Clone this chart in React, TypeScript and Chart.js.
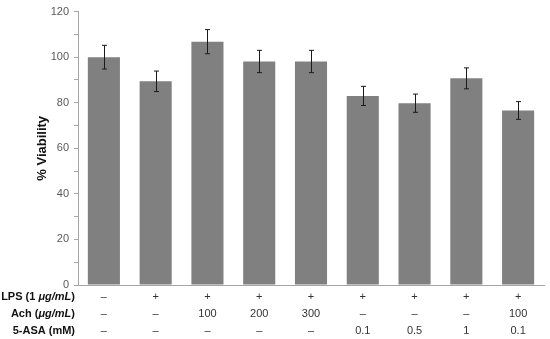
import React, { useEffect, useRef } from "react";
import { Chart, registerables } from "chart.js";

Chart.register(...registerables);

const lpsRow = ["–", "+", "+", "+", "+", "+", "+", "+", "+"];
const achRow = ["–", "–", "100", "200", "300", "–", "–", "–", "100"];
const asaRow = ["–", "–", "–", "–", "–", "0.1", "0.5", "1", "0.1"];
const viability = [100, 89.4, 106.8, 98.1, 98.1, 83.0, 79.8, 90.7, 76.6];
const errors = [5.2, 4.5, 5.3, 4.9, 4.9, 4.2, 4.0, 4.6, 3.9];
const yTicks = [0, 20, 40, 60, 80, 100, 120];

const FONT = "'Liberation Sans', Arial, sans-serif";
const LINE_H = 17;
const X_PAD = 3;

const errorBarPlugin = {
  id: "errorBars",
  afterDatasetsDraw(chart: any) {
    const ctx = chart.ctx;
    const meta = chart.getDatasetMeta(0);
    const y = chart.scales.y;
    ctx.save();
    ctx.strokeStyle = "#1a1a1a";
    ctx.lineWidth = 1;
    meta.data.forEach((el: any, i: number) => {
      const x = Math.round(el.x) + 0.5;
      const top = y.getPixelForValue(viability[i] + errors[i]);
      const bot = y.getPixelForValue(viability[i] - errors[i]);
      ctx.beginPath();
      ctx.moveTo(x, top);
      ctx.lineTo(x, bot);
      ctx.moveTo(x - 2.5, top);
      ctx.lineTo(x + 2.5, top);
      ctx.moveTo(x - 2.5, bot);
      ctx.lineTo(x + 2.5, bot);
      ctx.stroke();
    });
    ctx.restore();
  },
};

const rowHeaderPlugin = {
  id: "rowHeaders",
  afterDraw(chart: any) {
    const ctx = chart.ctx;
    const xs = chart.scales.x;
    const right = 75;
    const rows: { text: string; italic: boolean }[][] = [
      [
        { text: "LPS (1 ", italic: false },
        { text: "μg/mL", italic: true },
        { text: ")", italic: false },
      ],
      [
        { text: "Ach (", italic: false },
        { text: "μg/mL", italic: true },
        { text: ")", italic: false },
      ],
      [{ text: "5-ASA (mM)", italic: false }],
    ];
    ctx.save();
    ctx.fillStyle = "#111";
    ctx.textBaseline = "middle";
    ctx.textAlign = "left";
    rows.forEach((segs, r) => {
      const yy = xs.top + X_PAD + (r + 0.5) * LINE_H;
      let total = 0;
      segs.forEach((s) => {
        ctx.font = `${s.italic ? "italic " : ""}bold 11px ${FONT}`;
        total += ctx.measureText(s.text).width;
      });
      let x = right - total;
      segs.forEach((s) => {
        ctx.font = `${s.italic ? "italic " : ""}bold 11px ${FONT}`;
        ctx.fillText(s.text, x, yy);
        x += ctx.measureText(s.text).width;
      });
    });
    ctx.restore();
  },
};

export default function App() {
  const ref = useRef<HTMLCanvasElement | null>(null);

  useEffect(() => {
    document.body.style.margin = "0";
    const labels = lpsRow.map((v, i) => [v, achRow[i], asaRow[i]]);
    const chart = new Chart(ref.current as HTMLCanvasElement, {
      type: "bar",
      data: {
        labels,
        datasets: [
          {
            data: viability,
            backgroundColor: "#808080",
            borderWidth: 0,
            categoryPercentage: 1,
            barPercentage: 0.62,
          },
        ],
      },
      options: {
        animation: false,
        responsive: false,
        maintainAspectRatio: false,
        layout: { padding: { top: 4, right: 6, left: 0, bottom: 0 } },
        plugins: { legend: { display: false }, tooltip: { enabled: false } },
        scales: {
          x: {
            afterFit(scale: any) {
              scale.height = 54;
            },
            grid: { display: false, drawTicks: false },
            border: { display: true, color: "#a6a6a6" },
            ticks: {
              autoSkip: false,
              maxRotation: 0,
              padding: X_PAD,
              color: "#333",
              font: { family: FONT, size: 11, lineHeight: LINE_H / 11 },
            },
          },
          y: {
            min: 0,
            max: 120,
            afterFit(scale: any) {
              scale.width = 78;
            },
            ticks: {
              stepSize: 5,
              padding: 5,
              color: "#595959",
              font: { family: FONT, size: 11 },
              callback: (v: any) => (yTicks.includes(Number(v)) ? String(v) : ""),
            },
            grid: {
              drawOnChartArea: false,
              drawTicks: true,
              tickLength: 4,
              color: "#a6a6a6",
            },
            border: { display: true, color: "#a6a6a6" },
            title: {
              display: true,
              text: "% Viability",
              color: "#111",
              font: { family: FONT, size: 13, weight: "bold" },
              padding: { top: 35, bottom: 0 },
            },
          },
        },
      },
      plugins: [errorBarPlugin, rowHeaderPlugin],
    });
    return () => chart.destroy();
  }, []);

  return (
    <div style={{ position: "relative", width: 550, height: 339 }}>
      <canvas ref={ref} width={550} height={339} />
    </div>
  );
}
